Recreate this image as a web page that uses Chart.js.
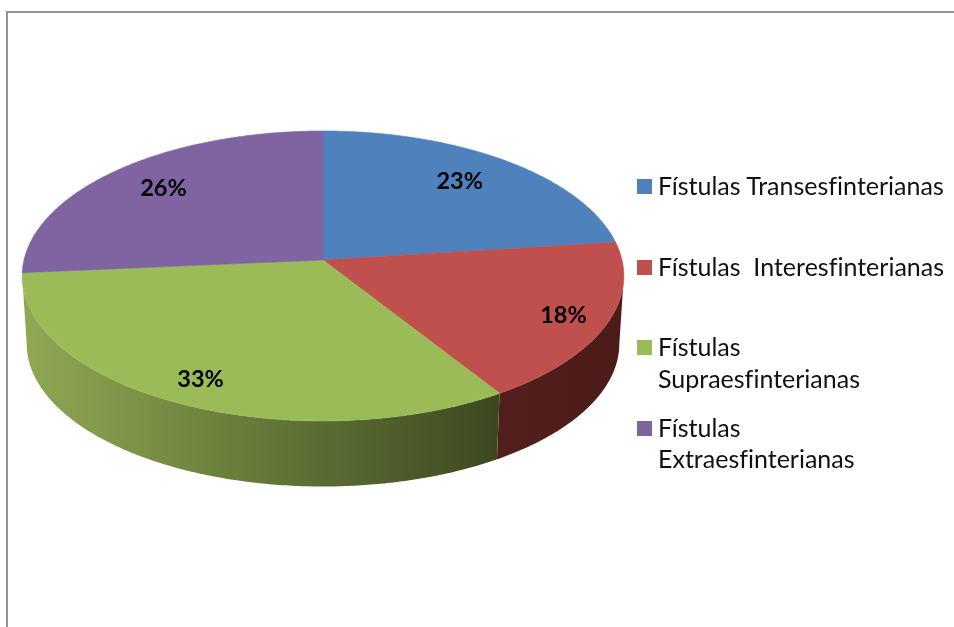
<!DOCTYPE html>
<html lang="es">
<head>
<meta charset="utf-8">
<title>Fístulas</title>
<script src="https://cdn.jsdelivr.net/npm/chart.js@4"></script>
<style>
    html, body { margin: 0; padding: 0; background: #fff; }
    #wrap { position: relative; width: 954px; height: 627px; overflow: hidden; }
    #frame {
        position: absolute; left: 6px; top: 11px; right: -4px; bottom: -4px;
        border: 2px solid #939393;
    }
    #pie { position: absolute; left: 0; top: 0; }
    #legend {
        position: absolute; left: 637px; top: 170px; margin: 0; padding: 0;
        list-style: none; font: 25px/31.5px Lato, sans-serif; color: #111;
        font-variant-ligatures: none;
    }
    #legend li { display: flex; min-height: 80.67px; white-space: pre; }
    #legend i { flex: none; width: 15px; height: 15px; margin: 9px 6px 0 0; }
</style>
</head>
<body>
<div id="wrap">
    <div id="frame"></div>
    <canvas id="pie" width="954" height="627"></canvas>
    <ul id="legend"></ul>
</div>
<script>
    const categories = [
        "Fístulas Transesfinterianas",
        "Fístulas  Interesfinterianas",
        "Fístulas\nSupraesfinterianas",
        "Fístulas\nExtraesfinterianas"
    ];
    // printed labels are rounded, the slices themselves read a little off 33/26
    const percentages = [23, 18, 32.6, 26.4];

    const topColors = ["#4f81bd", "#c0504d", "#9bbb59", "#8064a2"];
    // wall gradient: left end, right end
    const wallColors = [
        ["#3c5a80", "#2a4060"],
        ["#521f1c", "#4c1c1a"],
        ["#8fa853", "#3c4920"],
        ["#574570", "#463758"]
    ];

    // Tilted disc: the library gives angles and radius, this maps them to the screen
    const APEX_Y = 260;
    const TILT = 0.479;
    const PERSPECTIVE = 0.11;
    const DEPTH = 68;
    const FLOOR_SCALE = 0.985;
    const LABEL_RADIUS = [0.75, 0.86, 0.86, 0.775];
    const LABEL_NUDGE = [[-3, -4], [-2, 0], [2, -2], [2, -2]];

    function project(arc, angle, r) {
        const u = Math.cos(angle) * r;
        const v = Math.sin(angle) * r;
        const w = 1 - PERSPECTIVE * v;
        return {
            x: arc.outerRadius * u / w,
            y: arc.outerRadius * TILT * v / w
        };
    }

    function topPoint(arc, angle, r) {
        const p = project(arc, angle, r);
        return { x: arc.x + p.x, y: APEX_Y + p.y };
    }

    function floorPoint(arc, angle) {
        const p = project(arc, angle, 1);
        return { x: arc.x + p.x * FLOOR_SCALE, y: APEX_Y + p.y * FLOOR_SCALE + DEPTH };
    }

    function angleSteps(arc) {
        const steps = Math.ceil((arc.endAngle - arc.startAngle) / 0.01);
        const out = [];
        for (let i = 0; i <= steps; i++) {
            out.push(arc.startAngle + (arc.endAngle - arc.startAngle) * i / steps);
        }
        return out;
    }

    // keep only the angles between the slice's left and right extremes,
    // so the wall closes on the silhouette of the disc
    function wallAngles(arc) {
        const angles = angleSteps(arc);
        const xs = angles.map(a => topPoint(arc, a, 1).x);
        const first = xs.indexOf(Math.max(...xs));
        const last = xs.indexOf(Math.min(...xs));
        return angles.slice(first, last + 1);
    }

    const tiltedPie = {
        id: "tiltedPie",
        beforeDatasetsDraw(chart) {
            const ctx = chart.ctx;
            const arcs = chart.getDatasetMeta(0).data;
            ctx.save();

            // walls first, the top surface paints over whatever is hidden
            arcs.forEach((arc, i) => {
                // slices at the back have no visible wall
                if (Math.sin((arc.startAngle + arc.endAngle) / 2) <= 0) return;

                const angles = wallAngles(arc);
                const xs = angles.map(a => floorPoint(arc, a).x);
                const grad = ctx.createLinearGradient(Math.min(...xs), 0, Math.max(...xs), 0);
                grad.addColorStop(0, wallColors[i][0]);
                grad.addColorStop(1, wallColors[i][1]);

                ctx.beginPath();
                angles.forEach((a, n) => {
                    const p = topPoint(arc, a, 1);
                    if (n === 0) ctx.moveTo(p.x, p.y); else ctx.lineTo(p.x, p.y);
                });
                angles.slice().reverse().forEach(a => {
                    const p = floorPoint(arc, a);
                    ctx.lineTo(p.x, p.y);
                });
                ctx.closePath();
                ctx.fillStyle = grad;
                ctx.fill();
            });

            arcs.forEach((arc, i) => {
                ctx.beginPath();
                ctx.moveTo(arc.x, APEX_Y);
                angleSteps(arc).forEach(a => {
                    const p = topPoint(arc, a, 1);
                    ctx.lineTo(p.x, p.y);
                });
                ctx.closePath();
                ctx.fillStyle = topColors[i];
                ctx.strokeStyle = topColors[i];
                ctx.lineWidth = 0.6;
                ctx.fill();
                ctx.stroke();
            });

            ctx.fillStyle = "#000";
            ctx.font = "bold 23.5px Lato, sans-serif";
            ctx.textAlign = "center";
            ctx.textBaseline = "middle";
            arcs.forEach((arc, i) => {
                const mid = (arc.startAngle + arc.endAngle) / 2;
                const p = topPoint(arc, mid, LABEL_RADIUS[i]);
                ctx.fillText(Math.round(percentages[i]) + "%", p.x + LABEL_NUDGE[i][0], p.y + 1 + LABEL_NUDGE[i][1]);
            });

            ctx.restore();
            return false;
        }
    };

    // HTML legend, wrapped lines are kept as in the source document
    const htmlLegend = {
        id: "htmlLegend",
        afterUpdate(chart) {
            const list = document.getElementById("legend");
            list.innerHTML = "";
            chart.data.labels.forEach((label, i) => {
                const li = document.createElement("li");
                const box = document.createElement("i");
                box.style.background = topColors[i];
                const text = document.createElement("span");
                text.textContent = label;
                li.appendChild(box);
                li.appendChild(text);
                list.appendChild(li);
            });
        }
    };

    new Chart(document.getElementById("pie"), {
        type: "pie",
        data: {
            labels: categories,
            datasets: [{
                data: percentages,
                backgroundColor: topColors,
                borderWidth: 0
            }]
        },
        options: {
            responsive: false,
            animation: false,
            layout: { padding: { left: 24, right: 332, top: 14, bottom: 15 } },
            plugins: {
                legend: { display: false },
                tooltip: { enabled: false }
            }
        },
        plugins: [tiltedPie, htmlLegend]
    });
</script>
</body>
</html>
